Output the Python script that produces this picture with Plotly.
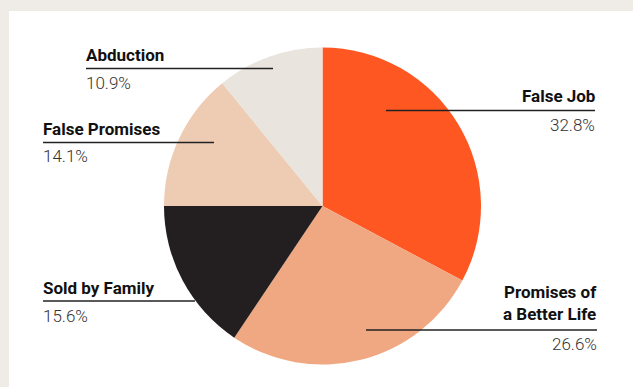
import plotly.graph_objects as go

# ---- data ----
categories = ["False Job", "Promises of a Better Life", "Sold by Family", "False Promises", "Abduction"]
label_text = ["False Job", "Promises of<br>a Better Life", "Sold by Family", "False Promises", "Abduction"]
values = [32.8, 26.6, 15.6, 14.1, 10.9]
colors = ["#FF5722", "#F0A882", "#231F20", "#EECBB3", "#E9E4DE"]

W, H = 633, 387

def px(x):
    return x / W

def py(y):
    return 1 - y / H

fig = go.Figure(go.Pie(
    labels=categories,
    values=values,
    sort=False,
    direction="clockwise",
    rotation=0,
    marker=dict(colors=colors, line=dict(width=0)),
    textinfo="none",
    hoverinfo="label+percent",
    showlegend=False,
    domain=dict(x=[px(164), px(481)], y=[py(364.5), py(47.5)]),
))

# label layout: (anchor x, side, label baseline y, rule y, rule x0, rule x1, pct baseline y)
layout_pos = {
    "False Job": (595, "right", 102.5, 110.5, 386, 595, 131),
    "Promises of a Better Life": (597, "right", 319.5, 330, 366, 597, 350),
    "Sold by Family": (43, "left", 294, 301, 43, 195, 321.5),
    "False Promises": (43, "left", 135, 142.5, 43, 214, 162),
    "Abduction": (86, "left", 61, 68.5, 86, 273, 89),
}

FS = 17
PAD = 2
annotations = []
shapes = [
    dict(type="rect", xref="paper", yref="paper", x0=0, x1=1, y0=py(11), y1=1,
         fillcolor="#EFEBE6", line=dict(width=0), layer="below"),
    dict(type="rect", xref="paper", yref="paper", x0=0, x1=px(9), y0=0, y1=1,
         fillcolor="#EFEBE6", line=dict(width=0), layer="below"),
]

for cat, lab, val in zip(categories, label_text, values):
    ax, side, lb, ry, rx0, rx1, pb = layout_pos[cat]
    tx = ax - PAD if side == "left" else ax + PAD
    annotations.append(dict(
        x=px(tx), y=py(lb + 6), xref="paper", yref="paper",
        text=lab, showarrow=False, xanchor=side, yanchor="bottom",
        align=side, font=dict(family="Roboto", size=FS, color="#111111", weight="bold"),
    ))
    annotations.append(dict(
        x=px(tx), y=py(pb + 6), xref="paper", yref="paper",
        text=f"{val:.1f}%", showarrow=False, xanchor=side, yanchor="bottom",
        font=dict(family="Roboto", size=FS, color="#333333", weight=300),
    ))
    shapes.append(dict(type="line", xref="paper", yref="paper",
                       x0=px(rx0), x1=px(rx1), y0=py(ry), y1=py(ry),
                       line=dict(color="#222222", width=1.3)))

fig.update_layout(
    width=W, height=H,
    margin=dict(l=0, r=0, t=0, b=0),
    paper_bgcolor="#FFFFFF",
    plot_bgcolor="#FFFFFF",
    annotations=annotations,
    shapes=shapes,
)

fig.write_html("out.html")
